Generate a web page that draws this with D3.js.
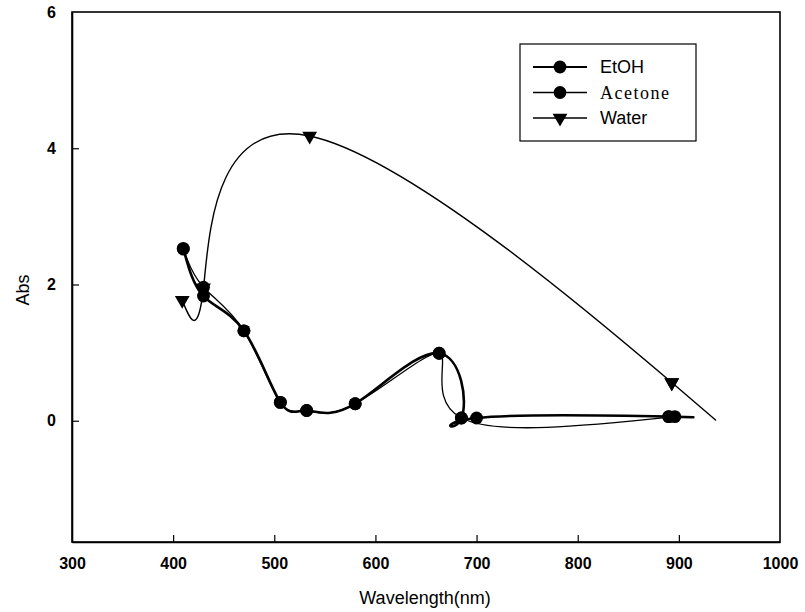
<!DOCTYPE html>
<html>
<head>
<meta charset="utf-8">
<script src="https://cdn.jsdelivr.net/npm/d3@7"></script>
<style>
  html, body { margin: 0; padding: 0; background: #fff; }
  svg { display: block; }
</style>
</head>
<body>
<svg id="chart" width="805" height="612"></svg>
<script>
// Absorbance spectra in three solvents (spline through the measured points)
const etohNm   = [410, 430, 470, 506, 532, 580, 663, 685, 700, 890, 890];
const etohAbs  = [2.53, 1.83, 1.32, 0.27, 0.15, 0.25, 0.99, 0.04, 0.04, 0.06, 0.06];

const acetoneNm  = [410, 430, 470, 506, 532, 580, 663, 685, 896];
const acetoneAbs = [2.52, 1.96, 1.32, 0.27, 0.15, 0.25, 0.99, 0.04, 0.06];

const waterNm   = [409, 430, 535, 893, 893];
const waterAbs  = [1.77, 1.95, 4.18, 0.56, 0.56];

const xTicks = [300, 400, 500, 600, 700, 800, 900, 1000];
const yTicks = [0, 2, 4, 6];

const svg = d3.select("#chart");
const x = d3.scaleLinear().domain([300, 1000]).range([72, 780]);
const y = d3.scaleLinear().domain([-1.78, 6]).range([542, 12]);

const font = "'Liberation Sans', Arial, sans-serif";

// frame
svg.append("rect")
  .attr("x", x(300)).attr("y", y(6))
  .attr("width", x(1000) - x(300)).attr("height", y(-1.78) - y(6))
  .attr("fill", "none").attr("stroke", "#000").attr("stroke-width", 1.6);

// axes with inward ticks
const xAxis = svg.append("g").attr("transform", `translate(0,${y(-1.78)})`)
  .call(d3.axisBottom(x).tickValues(xTicks).tickFormat(d3.format("d"))
    .tickSizeInner(-7).tickSizeOuter(0).tickPadding(16));
const yAxis = svg.append("g").attr("transform", `translate(${x(300)},0)`)
  .call(d3.axisLeft(y).tickValues(yTicks).tickFormat(d3.format("d"))
    .tickSizeInner(-7).tickSizeOuter(0).tickPadding(16));
[xAxis, yAxis].forEach(g => {
  g.select(".domain").attr("stroke-width", 1.6);
  g.selectAll(".tick line").attr("stroke-width", 1.2);
  g.selectAll(".tick text")
    .attr("font-family", font).attr("font-size", 16).attr("font-weight", "bold")
    .attr("fill", "#000");
});
xAxis.selectAll(".tick").filter(d => d === 300 || d === 1000).select("line").remove();
yAxis.selectAll(".tick").filter(d => d === 6).select("line").remove();

// axis titles
svg.append("text")
  .attr("x", 425).attr("y", 604).attr("text-anchor", "middle")
  .attr("font-family", font).attr("font-size", 18).text("Wavelength(nm)");
svg.append("text")
  .attr("transform", "translate(29,290) rotate(-90)").attr("text-anchor", "middle")
  .attr("font-family", font).attr("font-size", 18).text("Abs");

const zip = (xs, ys) => xs.map((v, i) => [v, ys[i]]);
const line = d3.line().x(d => x(d[0])).y(d => y(d[1])).curve(d3.curveNatural);

const plot = svg.append("g");

// Water
plot.append("path").datum(zip(waterNm, waterAbs))
  .attr("d", line)
  .attr("fill", "none").attr("stroke", "#000").attr("stroke-width", 1.4);

// Acetone
plot.append("path").datum(zip(acetoneNm, acetoneAbs))
  .attr("d", line)
  .attr("fill", "none").attr("stroke", "#000").attr("stroke-width", 1.3);

// EtOH
plot.append("path").datum(zip(etohNm, etohAbs))
  .attr("d", line)
  .attr("fill", "none").attr("stroke", "#000").attr("stroke-width", 2.6);

const circleSym = d3.symbol().type(d3.symbolCircle).size(130);
const triSym = d3.symbol().type(d3.symbolTriangle).size(95);

plot.selectAll(".m-ace").data(zip(acetoneNm, acetoneAbs)).join("path")
  .attr("d", circleSym).attr("transform", d => `translate(${x(d[0])},${y(d[1])})`);
plot.selectAll(".m-etoh").data(zip(etohNm, etohAbs)).join("path")
  .attr("d", circleSym).attr("transform", d => `translate(${x(d[0])},${y(d[1])})`);
plot.selectAll(".m-water").data(zip(waterNm, waterAbs)).join("path")
  .attr("d", triSym).attr("transform", d => `translate(${x(d[0])},${y(d[1])}) rotate(180)`);

// legend
const lg = svg.append("g");
lg.append("rect").attr("x", 520).attr("y", 44).attr("width", 176).attr("height", 97)
  .attr("fill", "#fff").attr("stroke", "#000").attr("stroke-width", 1.2);
const entries = [
  { name: "EtOH", sym: circleSym, w: 2.2, rot: 0, ff: font, ls: 0 },
  { name: "Acetone", sym: circleSym, w: 1.3, rot: 0, ff: "'Liberation Serif', 'Times New Roman', serif", ls: 1.5 },
  { name: "Water", sym: triSym, w: 1.3, rot: 180, ff: font, ls: 0 }
];
entries.forEach((e, i) => {
  const cy = 67 + i * 25.5;
  lg.append("line").attr("x1", 533).attr("x2", 587).attr("y1", cy).attr("y2", cy)
    .attr("stroke", "#000").attr("stroke-width", e.w);
  lg.append("path").attr("d", e.sym).attr("transform", `translate(560,${cy}) rotate(${e.rot})`);
  lg.append("text").attr("x", 600).attr("y", cy + 6)
    .attr("font-family", e.ff).attr("font-size", 18).attr("letter-spacing", e.ls)
    .text(e.name);
});
</script>
</body>
</html>
